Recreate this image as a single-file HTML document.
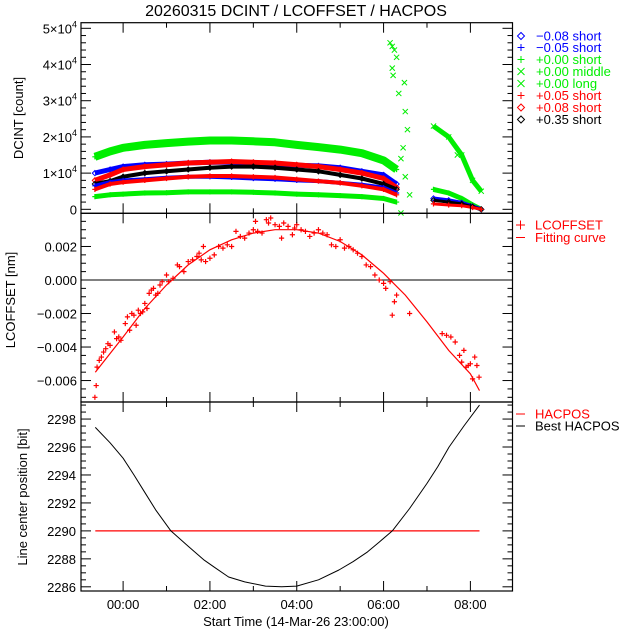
<!DOCTYPE html>
<html><head><meta charset="utf-8"><style>
html,body{margin:0;padding:0;background:#fff;}
svg{display:block;font-family:"Liberation Sans",sans-serif;}
</style></head><body>
<svg id="c" width="640" height="640" viewBox="0 0 640 640"></svg>
<script>
// ---- data (DCINT in thousands of counts) ----
const tA = [-0.65,-0.3,0,0.5,1,1.5,2,2.5,3,3.5,4,4.5,5,5.5,6,6.3];
const greenShortA = [14.5,16,17,17.8,18.3,18.7,19,19,18.8,18.5,17.8,17.2,16.5,15.5,13.5,11];
const blueDiamA   = [10,11,11.8,12.3,12.5,12.8,13,13,12.8,12.5,12.2,12,11.5,10.5,9.5,7];
const redDiamA    = [8,9.5,11,11.8,12.3,12.8,13,13.2,13,12.8,12.3,11.8,11,10,8.5,6];
const blackDiamA  = [7,7.8,9,10,10.5,11,11.5,11.8,11.8,11.5,11,10.5,9.5,8.5,7,5.5];
const bluePlusA   = [6.5,7.5,8,8.3,8.7,9,9,8.8,8.5,8.3,8,7.8,7.3,6.8,6,4.5];
const redPlusA    = [5.5,7,7.5,8,8.5,9,9.2,9.2,9,8.8,8.3,7.8,7.3,6.5,5.5,4];
const greenLongA  = [3.5,4,4.2,4.5,4.6,4.8,4.8,4.8,4.7,4.5,4.2,4,3.8,3.5,3,2];
const tB = [7.15,7.5,7.8,8.05,8.25];
const greenMidB   = [23,20,15,8,5];
const greenShortB = [5.5,4.5,3,1.2,0];
const blueDiamB   = [3,2.5,1.8,0.8,0];
const blackDiamB  = [2.5,2,1.5,0.7,0];
const redPlusB    = [1.5,1.2,1,0.5,0];
const spikeT = [6.15,6.2,6.25,6.3,6.2,6.22,6.35,6.48,6.5,6.55,6.45,6.4,6.5,6.6,6.4,7.7];
const spikeV = [46,45,44,42,39,37,32,35,27,22,17,14,9,4,-1,15];
const yTicksTop = [0,10,20,30,40,50];
const lcT = [-0.65,-0.62,-0.6,-0.55,-0.5,-0.45,-0.4,-0.35,-0.3,-0.2,-0.15,-0.1,-0.05,0.05,0.1,0.15,0.2,0.25,0.3,0.35,0.4,0.45,0.5,0.55,0.6,0.65,0.7,0.75,0.8,0.85,0.9,1.0,1.05,1.15,1.25,1.3,1.4,1.5,1.6,1.7,1.75,1.8,1.85,1.9,2.0,2.1,2.2,2.3,2.4,2.5,2.6,2.7,2.8,2.9,3.0,3.05,3.1,3.2,3.3,3.35,3.4,3.5,3.6,3.65,3.7,3.8,3.9,3.95,4.0,4.1,4.2,4.3,4.4,4.5,4.6,4.7,4.8,4.9,5.0,5.1,5.2,5.3,5.4,5.5,5.6,5.7,5.8,5.9,6.0,6.05,6.15,6.2,6.25,6.3,6.6,7.35,7.45,7.55,7.65,7.75,7.8,7.85,7.9,7.95,8.0,8.05,8.1,8.15,8.2];
const lcV = [-0.0070,-0.0063,-0.0052,-0.0048,-0.0046,-0.0043,-0.0041,-0.0038,-0.0039,-0.0031,-0.0035,-0.0034,-0.0036,-0.0026,-0.0022,-0.0030,-0.0020,-0.0021,-0.0027,-0.0018,-0.0020,-0.0019,-0.0014,-0.0017,-0.0008,-0.0006,-0.0005,-0.0009,-0.0008,-0.0003,-0.0001,0.0003,-0.0001,0.0001,0.0009,0.0008,0.0005,0.0011,0.0012,0.0014,0.0016,0.0012,0.0020,0.0011,0.0013,0.0015,0.0020,0.0019,0.0021,0.0020,0.0029,0.0026,0.0025,0.0028,0.0030,0.0035,0.0029,0.0028,0.0036,0.0034,0.0037,0.0033,0.0032,0.0025,0.0034,0.0032,0.0027,0.0031,0.0033,0.0030,0.0029,0.0026,0.0028,0.0030,0.0028,0.0027,0.0021,0.0020,0.0024,0.0019,0.0020,0.0018,0.0016,0.0014,0.0009,0.0008,0.0003,0.0000,-0.0002,-0.0005,-0.0001,-0.0021,-0.0013,-0.0009,-0.0020,-0.0032,-0.0033,-0.0034,-0.0037,-0.0045,-0.0049,-0.0042,-0.0052,-0.0051,-0.0050,-0.0059,-0.0046,-0.0051,-0.0058];
const fitT = [-0.64,0,0.5,1,1.5,2,2.5,3,3.5,4,4.5,5,5.5,6,6.5,7,7.5,8,8.21];
const fitV = [-0.0055,-0.0034,-0.0017,-0.0003,0.0009,0.0018,0.0024,0.0028,0.0030,0.0030,0.0028,0.0023,0.0015,0.0004,-0.0009,-0.0025,-0.0042,-0.0056,-0.0066];
const lcTicks = [-0.006,-0.004,-0.002,0,0.002];
const hacT = [-0.64,-0.3,0,0.25,0.47,0.75,1.1,1.5,1.87,2.1,2.43,2.8,3.28,3.65,4.0,4.5,4.97,5.3,5.63,5.9,6.2,6.6,7.0,7.25,7.51,7.85,8.21];
const hacV = [2297.4,2296.3,2295.2,2294.0,2292.9,2291.5,2290,2288.9,2287.9,2287.4,2286.7,2286.35,2286.05,2286.0,2286.05,2286.5,2287.2,2287.8,2288.5,2289.2,2290,2291.6,2293.4,2294.6,2296,2297.5,2299];
const hacposT = [-0.64,8.21];
const hacposV = [2290,2290];
const hacTicks = [2286,2288,2290,2292,2294,2296,2298];
const xTickHours = [0,2,4,6,8];
const xTickLabels = ["00:00","02:00","04:00","06:00","08:00"];

// ---- layout ----
const svg = document.getElementById('c');
const NS = 'http://www.w3.org/2000/svg';
const X0=81, X1=512.5, H0=-0.97, H1=8.97;
const xs = h => X0 + (h-H0)/(H1-H0)*(X1-X0);
const P1={top:22.7,bot:213.3,vmax:51.55,vmin:-1.1};
const P2={top:213.3,bot:402,vmax:0.00398,vmin:-0.00728};
const P3={top:402,bot:591,vmax:2299.22,vmin:2285.7};
const ys = (p,v) => p.bot - (v-p.vmin)/(p.vmax-p.vmin)*(p.bot-p.top);
function el(tag, attrs, parent){const e=document.createElementNS(NS,tag);for(const k in attrs)e.setAttribute(k,attrs[k]);(parent||svg).appendChild(e);return e;}
function txt(x,y,s,attrs,parent){const t=el('text',Object.assign({x:x,y:y,'font-size':13},attrs||{}),parent);t.textContent=s;return t;}

function marker(g,type,x,y,col){
  const s=2.6;
  let m;
  if(type==='d') m=el('path',{d:`M${x-s} ${y}L${x} ${y-s}L${x+s} ${y}L${x} ${y+s}Z`,fill:'none',stroke:col,'stroke-width':1},g);
  else if(type==='p') m=el('path',{d:`M${x-s} ${y}H${x+s}M${x} ${y-s}V${y+s}`,stroke:col,'stroke-width':1.2},g);
  else m=el('path',{d:`M${x-s} ${y-s}L${x+s} ${y+s}M${x-s} ${y+s}L${x+s} ${y-s}`,stroke:col,'stroke-width':1},g);
  
  
}
function band(name,T,V,col,type,w){
  const g=el('g',{});
  
  
  const pts=T.map((t,i)=>xs(t).toFixed(1)+','+ys(P1,V[i]).toFixed(1)).join(' ');
  el('polyline',{points:pts,fill:'none',stroke:col,'stroke-width':w,'stroke-linejoin':'round'},g);
  T.forEach((t,i)=>marker(g,type,xs(t),ys(P1,V[i]),col));
}
const G='#00ee00',B='#0000ff',R='#ff0000',K='#000';

el('text',{x:296,y:16,'font-size':16,'text-anchor':'middle',}).textContent='20260315 DCINT / LCOFFSET / HACPOS';

// ---- panel 1 ----
band('series-green-short',tA,greenShortA,G,'p',8);
band('series-blue-diamond',tA,blueDiamA,B,'d',5);
band('series-red-diamond',tA,redDiamA,R,'d',5);
band('series-black-diamond',tA,blackDiamA,K,'d',4);
band('series-blue-plus',tA,bluePlusA,B,'p',4);
band('series-red-plus',tA,redPlusA,R,'p',4);
band('series-green-long',tA,greenLongA,G,'p',5);
band('series-green-middle-b',tB,greenMidB,G,'x',5);
band('series-green-short-b',tB,greenShortB,G,'p',5);
band('series-blue-diamond-b',tB,blueDiamB,B,'d',4);
band('series-black-diamond-b',tB,blackDiamB,K,'d',3);
band('series-red-plus-b',tB,redPlusB,R,'p',3);
{const g=el('g',{});
 spikeT.forEach((t,i)=>marker(g,'x',xs(t),ys(P1,spikeV[i]),G));}

// ---- panel 2 ----
el('line',{x1:X0,x2:X1,y1:ys(P2,0),y2:ys(P2,0),stroke:K,'stroke-width':1,});
el('polyline',{points:fitT.map((t,i)=>xs(t).toFixed(1)+','+ys(P2,fitV[i]).toFixed(1)).join(' '),fill:'none',stroke:R,'stroke-width':1.2,});
{const g=el('g',{});
 lcT.forEach((t,i)=>marker(g,'p',xs(t),ys(P2,lcV[i]),R));}

// ---- panel 3 ----
el('polyline',{points:hacposT.map((t,i)=>xs(t).toFixed(1)+','+ys(P3,hacposV[i]).toFixed(1)).join(' '),fill:'none',stroke:R,'stroke-width':1.2,});
el('polyline',{points:hacT.map((t,i)=>xs(t).toFixed(1)+','+ys(P3,hacV[i]).toFixed(1)).join(' '),fill:'none',stroke:K,'stroke-width':1,'stroke-linejoin':'round',});

// ---- frames & ticks ----
function frame(p,name,majors,minorStep,vFmt){
  const g=el('g',{});
  el('rect',{x:X0,y:p.top,width:X1-X0,height:p.bot-p.top,fill:'none',stroke:K,'stroke-width':1.2},g);
  for(let h=0;h<=8;h++){const L=(h%2===0)?10:5;const x=xs(h);
    el('line',{x1:x,x2:x,y1:p.bot,y2:p.bot-L,stroke:K},g);el('line',{x1:x,x2:x,y1:p.top,y2:p.top+L,stroke:K},g);}
  const lo=Math.ceil(p.vmin/minorStep-1e-9),hi=Math.floor(p.vmax/minorStep+1e-9);
  for(let k=lo;k<=hi;k++){const v=k*minorStep;const y=ys(p,v);
    const maj=majors.some(m=>Math.abs(m-v)<minorStep/10);const L=maj?10:5;
    el('line',{x1:X0,x2:X0+L,y1:y,y2:y,stroke:K},g);el('line',{x1:X1,x2:X1-L,y1:y,y2:y,stroke:K},g);}
  majors.forEach(m=>vFmt(m,ys(p,m),g));
}
frame(P1,'top-panel-frame',yTicksTop,2,(m,y,g)=>{
  const t=el('text',{x:77,y:y+5,'font-size':13,'text-anchor':'end'},g);
  if(m===0){t.textContent='0';}else{t.textContent=(m/10)+'×10';const s=el('tspan',{dy:-6,'font-size':9},t);s.textContent='4';}
  
});
frame(P2,'middle-panel-frame',lcTicks,0.0005,(m,y,g)=>{
  const t=txt(77,y+5,(m<0?'−':'')+Math.abs(m).toFixed(3),{'text-anchor':'end'},g);
  
});
frame(P3,'bottom-panel-frame',hacTicks,0.5,(m,y,g)=>{
  const t=txt(76,y+5,String(m),{'text-anchor':'end'},g);
  
});
xTickHours.forEach((h,i)=>{const t=txt(xs(h),609,xTickLabels[i],{'text-anchor':'middle'});
  });
txt(296,626,'Start Time (14-Mar-26 23:00:00)',{'text-anchor':'middle',});
txt(0,0,'DCINT [count]',{transform:'translate(23,118) rotate(-90)','text-anchor':'middle',});
txt(0,0,'LCOFFSET [nm]',{transform:'translate(15,300) rotate(-90)','text-anchor':'middle',});
txt(0,0,'Line center position [bit]',{transform:'translate(27,497) rotate(-90)','text-anchor':'middle',});

// ---- legends ----
const legTop=[['d',B,'−0.08 short'],['p',B,'−0.05 short'],['p',G,'+0.00 short'],['x',G,'+0.00 middle'],['x',G,'+0.00 long'],['p',R,'+0.05 short'],['d',R,'+0.08 short'],['d',K,'+0.35 short']];
const legY=[36,47.5,59.5,71.5,83.5,95.5,107.5,119.5];
legTop.forEach((L,i)=>{const g=el('g',{});
  const y=legY[i];const s=3.5,x=521;
  if(L[0]==='d')el('path',{d:`M${x-s} ${y}L${x} ${y-s}L${x+s} ${y}L${x} ${y+s}Z`,fill:'none',stroke:L[1]},g);
  else if(L[0]==='p')el('path',{d:`M${x-s} ${y}H${x+s}M${x} ${y-s}V${y+s}`,stroke:L[1]},g);
  else el('path',{d:`M${x-s} ${y-s}L${x+s} ${y+s}M${x-s} ${y+s}L${x+s} ${y-s}`,stroke:L[1]},g);
  txt(536,y+4.5,L[2],{fill:L[1]},g);});
function legLine(y,type,col,label){const g=el('g',{});
  if(type==='p')el('path',{d:`M516 ${y}H525M520.5 ${y-4.5}V${y+4.5}`,stroke:col},g);
  else el('line',{x1:516,x2:525,y1:y,y2:y,stroke:col},g);
  txt(535,y+4.5,label,{fill:col},g);}
legLine(225,'p',R,'LCOFFSET');
legLine(237.5,'l',R,'Fitting curve');
legLine(414,'l',R,'HACPOS');
legLine(426,'l',K,'Best HACPOS');
</script>
</body></html>
